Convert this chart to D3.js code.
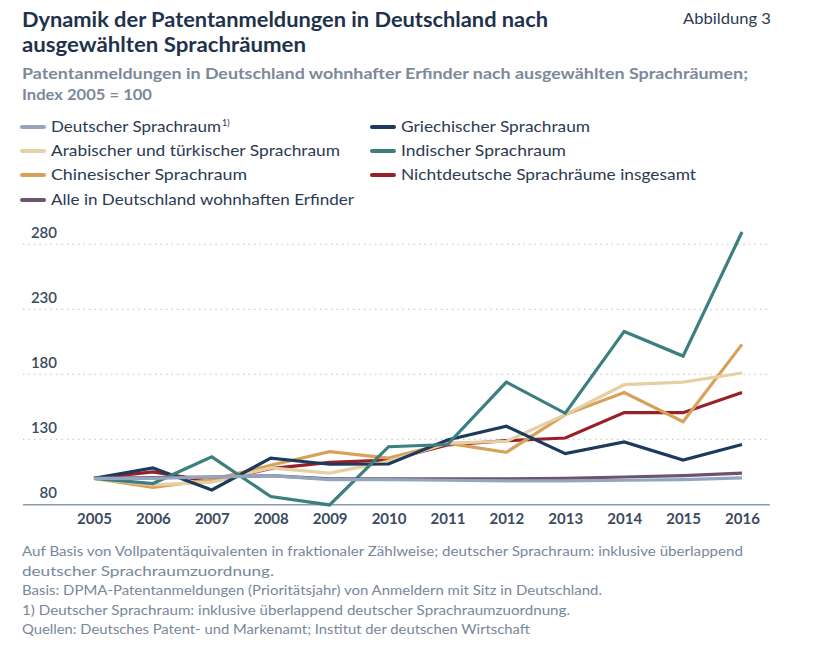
<!DOCTYPE html>
<html><head><meta charset="utf-8">
<script src="https://cdn.jsdelivr.net/npm/d3@7"></script>
<style>body{margin:0;background:#fff}svg{display:block}</style>
</head><body>
<svg id="c" width="832" height="657"></svg>
<script>
const years = [2005,2006,2007,2008,2009,2010,2011,2012,2013,2014,2015,2016];
const deutsch      = [100,100,101,102,99,99,98.5,98,98,98.5,99,100.3];
const arabisch     = [100,95,97,108,104,113,127,128.5,149,172,174,181];
const chinesisch   = [100,93,99,110,120.5,115.5,127,120,149,166,143.5,203];
const alle         = [100,100.5,101,102,99.5,99.5,99.5,99.5,100,101,102,104];
const griechisch   = [100,108,91,115.5,110.8,111,129.5,140,119,128,114,126];
const indisch      = [100,96,116.5,86,79.5,124.3,126,174,150,213,194,289.5];
const nichtdeutsch = [100,105,97.5,107.5,112.3,114,125.6,129,131,150.5,150.5,166];
const yTicks = [80,130,180,230,280];
const seriesNames = ["Deutscher Sprachraum","Arabischer und türkischer Sprachraum","Chinesischer Sprachraum","Alle in Deutschland wohnhaften Erfinder","Griechischer Sprachraum","Indischer Sprachraum","Nichtdeutsche Sprachräume insgesamt"];

const colors = {
  "Deutscher Sprachraum":"#93a6bf",
  "Arabischer und türkischer Sprachraum":"#e5cfa5",
  "Chinesischer Sprachraum":"#d7a159",
  "Alle in Deutschland wohnhaften Erfinder":"#6c5470",
  "Griechischer Sprachraum":"#1c3a5b",
  "Indischer Sprachraum":"#3b7f7e",
  "Nichtdeutsche Sprachräume insgesamt":"#992027"
};
const valuesByName = {
  "Deutscher Sprachraum":deutsch,
  "Arabischer und türkischer Sprachraum":arabisch,
  "Chinesischer Sprachraum":chinesisch,
  "Alle in Deutschland wohnhaften Erfinder":alle,
  "Griechischer Sprachraum":griechisch,
  "Indischer Sprachraum":indisch,
  "Nichtdeutsche Sprachräume insgesamt":nichtdeutsch
};

const svg = d3.select("#c");
const FONT = "Lato, 'Open Sans', sans-serif";

function txt(x, y, s, opt) {
  const t = svg.append("text").attr("x", x).attr("y", y).text(s)
    .attr("font-family", FONT)
    .attr("font-size", opt.size)
    .attr("font-weight", opt.weight || 400)
    .attr("fill", opt.fill)
    .attr("text-anchor", opt.anchor || "start");
  if (opt.width) t.attr("textLength", opt.width).attr("lengthAdjust", "spacingAndGlyphs");
  return t;
}

// Titles
txt(22, 27, "Dynamik der Patentanmeldungen in Deutschland nach", {size:20, weight:700, fill:"#1f324c", width:526});
txt(22, 52, "ausgewählten Sprachräumen", {size:20, weight:700, fill:"#1f324c", width:284});
txt(683, 24, "Abbildung 3", {size:15, fill:"#2a3b52", width:88});
txt(22, 79, "Patentanmeldungen in Deutschland wohnhafter Erfinder nach ausgewählten Sprachräumen;", {size:15.5, weight:700, fill:"#7c8999", width:726});
txt(22, 100, "Index 2005 = 100", {size:15.5, weight:700, fill:"#7c8999", width:130});

// Legend
const legendPos = [
  {x:22, y:127, w:170}, {x:22, y:151, w:289}, {x:22, y:175, w:196}, {x:22, y:200, w:303},
  {x:372, y:127, w:189}, {x:372, y:151, w:165}, {x:372, y:175, w:295}
];
seriesNames.forEach((n, i) => {
  const p = legendPos[i];
  svg.append("line").attr("x1", p.x).attr("x2", p.x + 22).attr("y1", p.y).attr("y2", p.y)
    .attr("stroke", colors[n]).attr("stroke-width", 4).attr("stroke-linecap", "round");
  txt(p.x + 29, p.y + 5, n, {size:15, fill:"#2b3a52", width:p.w});
  if (i === 0) txt(p.x + 29 + p.w + 1, p.y - 1, "1)", {size:9, fill:"#2b3a52"});
});

// Scales
const x = d3.scalePoint().domain(years).range([94, 742]);
const y = d3.scaleLinear().domain([80, 280]).range([504.3, 244.3]);

// Gridlines
svg.append("g").selectAll("line").data(yTicks.filter(d => d > 80)).join("line")
  .attr("x1", 23).attr("x2", 770).attr("y1", d => y(d)).attr("y2", d => y(d))
  .attr("stroke", "#c3c7cd").attr("stroke-width", 1.3).attr("stroke-dasharray", "1.3,4.2");

// Y labels
const yAxis = d3.axisLeft(y).tickValues(yTicks).tickSize(0).tickFormat(d3.format("d"));
const ya = svg.append("g").attr("transform", "translate(57,0)").call(yAxis);
ya.select(".domain").remove();
ya.selectAll("text").attr("font-family", FONT).attr("font-size", 15).attr("font-weight", 600)
  .attr("fill", "#3b4a60").attr("text-anchor", "end").attr("x", 0).attr("dy", "-0.45em");

// Bottom axis line
svg.append("line").attr("x1", 23).attr("x2", 770).attr("y1", y(80)+0.5).attr("y2", y(80)+0.5)
  .attr("stroke", "#8b9bb0").attr("stroke-width", 1.6);

// X labels
const xAxis = d3.axisBottom(x).tickSize(0).tickFormat(d3.format("d"));
const xa = svg.append("g").attr("transform", `translate(0,${y(80)})`).call(xAxis);
xa.select(".domain").remove();
xa.selectAll("text").attr("font-family", FONT).attr("font-size", 15).attr("font-weight", 700)
  .attr("fill", "#3b4a60").attr("dy", 0).attr("y", 20);

// Lines
const drawOrder = ["Nichtdeutsche Sprachräume insgesamt","Chinesischer Sprachraum","Arabischer und türkischer Sprachraum","Griechischer Sprachraum","Indischer Sprachraum","Alle in Deutschland wohnhaften Erfinder","Deutscher Sprachraum"];
const line = d3.line().x((d, i) => x(years[i])).y(d => y(d));
svg.append("g").selectAll("path").data(drawOrder).join("path")
  .attr("d", n => line(valuesByName[n]))
  .attr("fill", "none").attr("stroke", n => colors[n]).attr("stroke-width", 3.2)
  .attr("stroke-linejoin", "miter").attr("stroke-linecap", "butt");

// Footnotes
const notes = [
  {t:"Auf Basis von Vollpatentäquivalenten in fraktionaler Zählweise; deutscher Sprachraum: inklusive überlappend", w:721},
  {t:"deutscher Sprachraumzuordnung.", w:252},
  {t:"Basis: DPMA-Patentanmeldungen (Prioritätsjahr) von Anmeldern mit Sitz in Deutschland.", w:580},
  {t:"1) Deutscher Sprachraum: inklusive überlappend deutscher Sprachraumzuordnung.", w:548},
  {t:"Quellen: Deutsches Patent- und Markenamt; Institut der deutschen Wirtschaft", w:508}
];
notes.forEach((n, i) => txt(22, 556 + i * 19.6, n.t, {size:13, fill:"#78879a", width:n.w}));
</script>
</body></html>
